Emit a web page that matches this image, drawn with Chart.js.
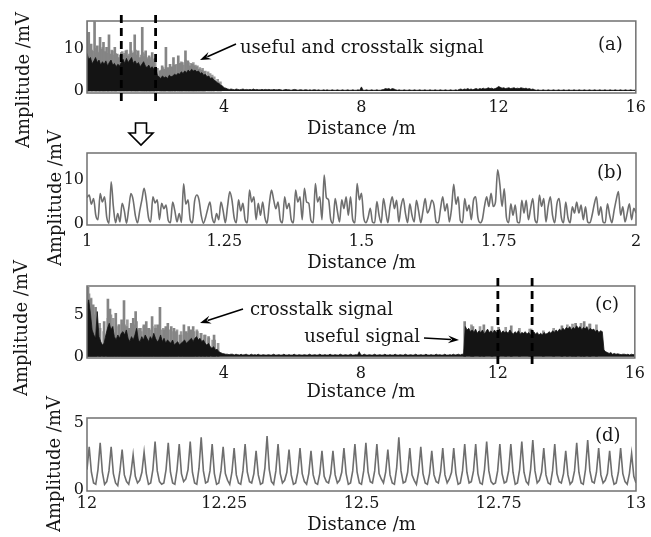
<!DOCTYPE html>
<html><head><meta charset="utf-8">
<script src="https://cdn.jsdelivr.net/npm/chart.js@4.4.0/dist/chart.umd.min.js"></script>
<style>
html,body{margin:0;padding:0;background:#fff;}
#wrap{position:relative;width:651px;height:537px;background:#fff;}
canvas{position:absolute;left:0;top:0;}
</style></head><body>
<div id="wrap">
<canvas id="pa" width="651" height="537"></canvas>
<canvas id="pb" width="651" height="537"></canvas>
<canvas id="pc" width="651" height="537"></canvas>
<canvas id="pd" width="651" height="537"></canvas>
</div>
<script>
// ---------- tick labels ----------
const aXTicks = [4, 8, 12, 16];
const aXLabels = ['4', '8', '12', '16'];
const aYTicks = [0, 10];
const bXTicks = [1, 1.25, 1.5, 1.75, 2];
const bXLabels = ['1', '1.25', '1.5', '1.75', '2'];
const bYTicks = [0, 10];
const cXTicks = [4, 8, 12, 16];
const cXLabels = ['4', '8', '12', '16'];
const cYTicks = [0, 5];
const dXTicks = [12, 12.25, 12.5, 12.75, 13];
const dXLabels = ['12', '12.25', '12.5', '12.75', '13'];
const dYTicks = [0, 5];

// ---------- sampling grids ----------
const aStart = 0, aStep = 0.05;
const bStart = 1, bStep = 0.004;
const cStart = 0, cStep = 0.05;
const dStart = 12, dStep = 0.004;

// ---------- (a) useful + crosstalk, dense envelope (mV) ----------
const aBody = [
9.0,7.5,8.0,6.5,7.2,8.0,6.8,7.4,6.2,7.0, 6.4,7.2,6.0,6.8,7.4,6.2,6.6,5.8,6.4,6.0,
6.8,7.6,6.6,7.8,6.8,7.4,8.0,6.6,7.2,6.4, 6.8,5.8,6.4,7.0,6.0,5.6,6.2,5.4,5.8,5.2,
5.6,3.8,3.4,3.0,3.6,3.2,3.4,3.0,3.8,3.4, 3.6,4.0,3.8,4.2,4.0,4.6,4.2,4.8,4.4,5.0,
4.6,5.2,4.8,5.0,4.6,4.8,4.2,4.4,3.8,4.0, 3.4,3.6,3.0,3.2,2.6,2.4,2.0,1.8,1.4,1.2,
0.8,0.7,0.5,0.4,0.5,
0.4,0.3,0.5,0.4,0.3,0.4,0.5,0.3,0.4,0.3,0.4,0.3,0.5,0.3,0.4,0.3,0.3,0.4,0.3,0.4,
0.3,0.4,0.3,0.3,0.4,0.3,0.3,0.4,0.3,0.2,0.3,0.4,0.3,0.3,0.2,0.3,0.4,0.3,0.2,0.3,
0.3,0.2,0.3,0.3,0.2,0.3,0.2,0.3,0.3,0.2,0.3,0.2,0.2,0.3,0.2,0.3,0.2,0.2,0.3,0.2,
0.2,0.3,0.2,0.2,0.3,0.2,0.2,0.3,0.2,0.2,0.3,0.2,0.2,0.3,0.2,1.0,0.2,0.2,0.3,0.2,
0.2,0.3,0.2,0.2,0.3,0.2,0.2,0.3,0.4,0.6,0.5,0.6,0.4,0.6,0.5,0.3,0.2,0.3,0.2,0.2,
0.3,0.2,0.2,0.3,0.2,0.2,0.3,0.2,0.2,0.3,0.2,0.2,0.3,0.2,0.2,0.3,0.2,0.2,0.3,0.2,
0.2,0.3,0.2,0.2,0.3,0.2,0.2,0.3,0.2,0.2,0.3,0.2,0.4,0.5,0.3,0.5,0.4,0.6,0.4,0.5,
0.3,0.5,0.6,0.4,0.6,0.5,0.7,0.5,0.6,0.8,0.6,0.7,0.5,0.6,0.8,1.1,0.9,0.7,0.8,0.6,
0.7,0.8,0.6,0.7,0.8,0.6,0.7,0.6,0.8,0.7,0.6,0.7,0.5,0.6,0.4,0.5,0.3,0.2,0.3,0.2,
0.2,0.3,0.2,0.2,0.3,0.2,0.2,0.3,0.2,0.2,0.3,0.2,0.2,0.3,0.2,0.2,0.3,0.2,0.2,0.3,
0.2,0.2,0.3,0.2,0.2,0.3,0.2,0.2,0.3,0.2,0.2,0.3,0.2,0.2,0.3,0.2,0.2,0.3,0.2,0.2,
0.3,0.2,0.2,0.3,0.2,0.2,0.3,0.2,0.2,0.3,0.2,0.2,0.3,0.2,0.2,0.3
];
// (a) tall gray spikes: distance (m) and amplitude (mV)
const aSpikeDist = [0.01,0.05,0.08,0.15,0.19,0.25,0.29,0.33,0.37,0.41,0.46,0.51,0.55,0.6,0.64,0.67,0.72,0.77,0.84,0.88,
  0.91,0.97,1.03,1.1,1.16,1.22,1.3,1.35,1.42,1.47,1.52,1.58,1.64,1.69,1.74,1.79,1.84,1.88,1.93,1.98,
  2.08,2.16,2.22,2.28,2.33,2.4,2.45,2.5,2.55,2.6,2.69,2.75,2.81,2.9,2.97,3.03,3.1,3.15,3.22,3.3,3.38,3.45];
const aSpikeAmp = [16.5,12.0,14.0,11.2,9.5,16.5,9.0,10.8,9.2,12.8,10.0,11.6,9.4,10.4,9.0,13.4,8.8,9.6,10.4,8.4,
  8.8,8.0,9.2,8.6,9.6,8.4,11.6,9.0,13.4,8.6,9.6,8.0,15.2,8.2,9.6,7.6,8.4,7.4,9.2,7.0,
  5.4,4.8,6.0,5.2,10.4,5.6,6.4,5.8,8.0,6.2,8.4,6.6,6.8,9.6,7.2,6.0,6.4,6.0,5.8,5.2,5.0,4.6];
// (a) smaller gray spikes just above the dense part
const aMinorDist = [0.03,0.11,0.22,0.35,0.43,0.48,0.58,0.69,0.75,0.8,0.94,1.0,1.06,1.13,1.19,1.26,1.33,1.39,1.45,1.55,
  1.61,1.67,1.72,1.81,1.91,1.96,2.12,2.19,2.25,2.36,2.43,2.53,2.58,2.65,2.72,2.78,2.85,2.93,3.0,3.07,
  3.13,3.19,3.26,3.34,3.42,3.5,3.56,3.62,3.68,3.78,3.86];
const aMinorAmp = [10.5,9.8,10.2,9.6,10.4,8.8,9.0,9.8,8.6,9.0,8.6,9.4,9.0,9.8,8.8,9.6,9.2,9.8,9.0,8.6,
  9.2,8.8,8.0,8.0,7.6,7.8,5.0,5.6,4.6,5.4,5.0,5.6,6.4,6.0,7.0,6.2,7.4,6.8,6.6,6.8,
  6.2,6.0,5.6,5.4,4.8,4.6,4.2,3.8,3.4,2.8,2.2];

// ---------- (b) zoom 1–2 m (mV) ----------
const bAmp = [
6.0,6.6,4.5,5.8,2.0,1.0,6.9,5.0,6.2,1.5,0.2,9.6,4.0,0.3,2.4,0.5,4.7,3.0,0.2,3.5,6.9,5.5,2.0,0.3,3.0,
5.5,8.1,5.5,1.5,0.5,6.2,4.8,5.5,1.0,4.7,3.5,4.3,0.8,0.3,5.0,3.0,0.5,2.4,0.4,9.1,4.5,5.5,1.0,0.3,5.2,
6.6,5.5,2.0,0.2,1.5,3.5,5.0,1.5,0.3,2.4,1.0,5.0,3.0,0.3,4.0,7.3,5.5,1.5,0.3,5.5,3.0,4.7,1.0,0.3,7.7,
5.0,6.2,1.0,4.7,2.0,5.0,1.5,0.2,4.5,7.7,5.5,3.5,5.0,1.0,0.3,6.2,3.5,4.7,1.0,0.3,7.7,5.0,6.2,1.0,8.1,
5.0,4.7,0.8,0.3,9.2,5.0,6.2,1.0,11.1,6.0,5.5,1.0,0.2,5.8,3.0,0.5,5.5,3.5,6.2,2.0,6.2,1.0,0.3,9.2,5.5,
7.0,1.5,0.3,1.5,3.6,0.5,0.3,5.1,2.0,0.3,5.8,3.0,0.3,4.0,6.2,3.5,5.4,0.5,4.0,5.8,2.5,0.3,4.6,2.0,0.5,
5.4,3.0,0.3,3.0,5.8,2.5,3.5,5.4,4.3,0.5,0.3,3.5,6.2,3.0,4.6,0.5,3.5,9.0,4.5,6.2,0.8,0.3,5.8,3.0,4.3,
1.0,5.4,6.2,1.5,0.3,1.0,4.0,6.2,4.0,7.0,4.0,5.0,12.3,9.0,4.0,8.0,1.5,0.3,4.6,2.0,4.3,0.5,0.3,5.4,2.5,
5.4,1.0,3.5,5.8,1.0,0.3,6.6,4.0,5.8,0.5,4.0,6.2,2.0,0.3,4.6,5.8,1.5,0.3,5.0,1.5,0.3,3.9,2.5,5.0,2.5,
4.3,1.0,3.9,0.5,0.3,2.0,4.5,6.2,2.0,3.9,0.5,0.3,4.6,2.0,0.3,3.0,5.5,7.4,2.0,3.9,0.5,2.5,4.6,1.0,3.6,2.5
];

// ---------- (c) crosstalk + useful signal, dense envelope (mV) ----------
const cBody = [
6.0,6.8,5.2,3.2,2.6,2.2,5.4,2.4,1.8,1.4, 1.6,2.6,3.4,4.0,3.2,3.6,2.4,2.0,2.6,2.2,
2.8,3.0,2.6,3.2,2.2,1.8,2.4,2.0,2.6,3.4, 2.0,1.8,2.4,2.0,2.6,2.2,1.8,2.4,2.0,2.8,
2.2,1.8,2.0,2.6,1.8,2.2,1.6,2.0,1.8,1.6, 2.0,1.4,1.6,1.8,1.4,1.6,1.8,2.0,1.6,1.8,
2.0,2.2,1.8,2.2,2.4,2.0,2.2,1.8,2.0,1.6, 1.4,1.6,1.2,1.0,1.2,0.8,0.9,0.6,0.5,0.4,
0.35,0.3,0.3,0.25,0.3,
0.3,0.2,0.3,0.25,0.2,0.3,0.2,0.25,0.3,0.2,0.2,0.3,0.2,0.25,0.2,0.3,0.2,0.2,0.25,0.2,
0.2,0.25,0.2,0.2,0.3,0.2,0.2,0.25,0.2,0.2,0.3,0.2,0.2,0.25,0.2,0.2,0.3,0.2,0.2,0.25,
0.2,0.2,0.25,0.2,0.2,0.3,0.2,0.2,0.25,0.2,0.2,0.3,0.2,0.2,0.25,0.2,0.2,0.3,0.2,0.2,
0.25,0.2,0.2,0.3,0.2,0.2,0.25,0.2,0.2,0.3,0.2,0.2,0.25,0.2,0.6,0.2,0.2,0.3,0.2,0.2,
0.25,0.2,0.2,0.3,0.2,0.2,0.25,0.2,0.2,0.3,0.2,0.2,0.25,0.2,0.2,0.3,0.2,0.2,0.25,0.2,
0.2,0.3,0.2,0.2,0.25,0.2,0.2,0.3,0.2,0.2,0.25,0.2,0.2,0.3,0.2,0.2,0.25,0.2,0.2,0.3,
0.2,0.25,0.2,0.2,0.3,0.2,0.2,0.25,0.2,0.3,0.2,0.25,0.3,0.2,0.3,0.3,3.6,3.2,3.4,3.0,
3.2,2.9,3.3,2.8,3.1,2.9,3.2,2.7,3.0,3.3,2.9,3.1,2.8,3.2,2.9,3.0,3.3,2.8,3.1,2.9,
3.0,2.8,3.2,2.9,2.7,3.0,2.8,3.1,2.7,2.9,2.8,3.0,2.7,2.9,2.6,2.8,3.0,2.7,2.9,2.6,
2.8,2.6,2.9,2.7,2.8,3.0,2.8,3.1,2.9,3.2,3.0,3.3,3.1,3.4,3.2,3.5,3.3,3.6,3.2,3.5,
3.3,3.7,3.4,3.6,3.2,3.5,3.3,3.6,3.1,3.4,3.2,3.3,3.0,3.2,2.9,3.1,3.0,0.8,0.6,0.5,
0.4,0.5,0.3,0.4,0.3,0.35,0.3,0.25,0.3,0.3,0.25,0.3,0.2,0.3,0.25,0.3
];
// (c) gray spikes
const cSpikeDist = [0.01,0.06,0.14,0.21,0.28,0.41,0.53,0.64,0.7,0.78,0.87,0.96,1.04,1.11,1.18,1.25,1.32,1.38,1.45,1.52,
  1.59,1.69,1.76,1.84,1.93,2.03,2.1,2.16,2.27,2.33,2.39,2.49,2.57,2.64,2.76,2.86,2.93,3.0,3.07,3.13,
  3.25,3.36,3.48,3.58,3.74,11.06,11.3,11.62,12.05,12.42,13.0,13.9,14.3,14.55,14.72];
const cSpikeAmp = [8.3,8.3,6.9,6.2,5.9,3.4,4.2,6.9,5.7,3.6,5.2,3.8,4.4,6.7,3.6,3.4,4.0,4.6,5.4,3.2,
  3.4,3.8,4.2,3.4,4.8,3.4,3.8,5.9,3.2,3.6,4.0,3.6,3.4,3.0,2.6,3.8,3.0,3.6,3.2,3.6,
  3.0,2.8,2.6,2.4,2.6,4.2,3.6,3.8,3.5,3.7,3.3,3.7,4.0,4.2,3.9];
const cMinorDist = [0.03,0.09,0.17,0.24,0.34,0.46,0.58,0.67,0.74,0.83,0.91,1.0,1.07,1.15,1.21,1.29,1.35,1.42,1.49,1.56,
  1.63,1.72,1.8,1.88,1.97,2.06,2.13,2.2,2.3,2.36,2.44,2.53,2.6,2.68,2.72,2.8,2.9,2.97,3.04,3.1,
  3.18,3.3,3.4,3.53,3.64,3.7,3.8,11.2,11.45,11.8,12.2,12.6,12.9,13.3,13.6,14.0,14.15,14.4,14.65,14.85];
const cMinorAmp = [7.5,7.0,5.0,4.5,4.0,3.0,4.6,5.0,4.6,3.6,3.8,4.0,3.8,4.4,3.2,3.6,3.8,4.2,3.4,3.0,
  3.6,3.4,3.2,3.6,3.8,3.0,3.2,3.4,3.0,3.2,3.0,2.8,3.2,2.6,3.0,2.6,2.8,3.0,2.8,3.0,
  3.2,2.8,2.6,2.2,2.0,2.0,1.6,3.8,3.6,3.6,3.5,3.4,3.3,3.1,3.4,3.8,3.9,4.0,3.9,3.8];

// ---------- (d) zoom 12–13 m (mV) ----------
const dAmp = [
1.5,3.2,1.3,0.5,0.4,1.5,3.5,1.3,0.4,0.6,1.4,3.2,1.2,0.5,0.3,1.4,3.0,1.1,0.6,0.4,1.2,2.6,1.0,0.5,0.7,
1.3,2.8,1.2,0.4,0.5,1.5,3.6,1.4,0.6,0.4,0.5,1.5,3.5,1.3,0.5,0.4,1.5,3.4,1.2,0.6,0.8,1.5,3.6,1.3,0.5,
0.4,1.6,3.9,1.4,0.5,0.6,1.4,3.4,1.2,0.4,0.5,1.4,3.2,1.2,0.7,0.4,1.3,3.1,1.1,0.5,0.4,1.4,3.4,1.3,0.6,
0.5,1.2,2.9,1.1,0.4,0.5,1.6,4.0,1.5,0.6,0.4,1.4,3.4,1.2,0.5,0.7,1.3,3.0,1.1,0.4,0.5,1.3,3.1,1.2,0.6,
0.4,1.2,2.9,1.1,0.5,0.4,1.2,2.9,1.0,0.6,0.5,1.2,2.9,1.1,0.5,0.7,1.3,3.1,1.2,0.4,0.5,1.4,3.4,1.3,0.5,
0.4,1.4,3.5,1.3,0.6,0.5,1.4,3.4,1.2,0.8,0.5,1.3,3.0,1.1,0.5,0.4,1.6,3.9,1.4,0.5,0.6,1.3,3.1,1.1,0.7,
0.4,1.3,3.2,1.2,0.5,0.4,1.2,2.9,1.1,0.6,0.5,1.3,3.1,1.1,0.5,0.8,1.3,3.1,1.2,0.4,0.5,1.4,3.4,1.3,0.5,
0.6,1.4,3.4,1.2,0.5,0.4,1.5,3.6,1.4,0.6,0.4,0.5,1.4,3.4,1.2,0.5,0.6,1.4,3.4,1.3,0.4,0.5,1.5,3.6,1.3,
0.6,0.4,1.5,3.7,1.4,0.5,0.7,1.3,3.1,1.1,0.5,0.4,1.4,3.4,1.2,0.6,0.5,1.2,2.9,1.1,0.4,0.6,1.4,3.5,1.3,
0.5,0.4,1.5,3.7,1.4,0.6,0.5,1.3,3.1,1.1,0.5,0.7,1.2,2.9,1.1,0.4,0.5,1.3,3.1,1.2,0.6,0.4,1.2,2.7,1.0,
0.5
];

// ---------- drawing ----------
const FONT = 'DejaVu Serif';
const INK = '#151515';
Chart.defaults.font.family = FONT;

function grid(arr, start, step) { return arr.map((v, i) => ({ x: start + i * step, y: v })); }
function pairs(xs, ys) { return xs.map((x, i) => ({ x: x, y: ys[i] })); }

const deco = {
  id: 'deco',
  afterDraw(chart, args, o) {
    const { ctx, chartArea: a, scales: { x } } = chart;
    ctx.save();
    ctx.strokeStyle = '#707070'; ctx.lineWidth = 1.5; ctx.setLineDash([]);
    ctx.strokeRect(a.left, a.top, a.right - a.left, a.bottom - a.top);
    ctx.fillStyle = INK;
    ctx.font = '18px "' + FONT + '"';
    ctx.save();
    ctx.translate(o.yTitle[0], o.yTitle[1]); ctx.rotate(-Math.PI / 2);
    ctx.textAlign = 'center'; ctx.textBaseline = 'middle';
    ctx.fillText('Amplitude /mV', 0, 0);
    ctx.restore();
    ctx.textAlign = 'left'; ctx.textBaseline = 'alphabetic';
    ctx.fillText(o.tag[0], o.tag[1], o.tag[2]);
    (o.notes || []).forEach(n => { ctx.textAlign = n.align || 'left'; ctx.fillText(n.text, n.x, n.y); });
    (o.arrows || []).forEach(ar => {
      const [x0, y0, x1, y1] = ar;
      const ang = Math.atan2(y1 - y0, x1 - x0);
      ctx.strokeStyle = '#000'; ctx.lineWidth = 1.6;
      ctx.beginPath(); ctx.moveTo(x0, y0);
      ctx.lineTo(x1 - 8 * Math.cos(ang), y1 - 8 * Math.sin(ang)); ctx.stroke();
      ctx.fillStyle = '#000';
      ctx.beginPath(); ctx.moveTo(x1, y1);
      ctx.lineTo(x1 - 11 * Math.cos(ang) + 4 * Math.sin(ang), y1 - 11 * Math.sin(ang) - 4 * Math.cos(ang));
      ctx.lineTo(x1 - 7 * Math.cos(ang), y1 - 7 * Math.sin(ang));
      ctx.lineTo(x1 - 11 * Math.cos(ang) - 4 * Math.sin(ang), y1 - 11 * Math.sin(ang) + 4 * Math.cos(ang));
      ctx.closePath(); ctx.fill();
    });
    (o.dashes || []).forEach(d => {
      const px = x.getPixelForValue(d);
      ctx.strokeStyle = '#000'; ctx.lineWidth = 2.8; ctx.setLineDash([8, 5]);
      ctx.beginPath(); ctx.moveTo(px, o.dashSpan[0]); ctx.lineTo(px, o.dashSpan[1]); ctx.stroke();
    });
    ctx.setLineDash([]);
    if (o.hollow) {
      const [cx, t] = o.hollow;
      ctx.fillStyle = '#fff'; ctx.strokeStyle = '#000'; ctx.lineWidth = 1.6;
      ctx.beginPath();
      ctx.moveTo(cx - 5.5, t); ctx.lineTo(cx + 5.5, t); ctx.lineTo(cx + 5.5, t + 10);
      ctx.lineTo(cx + 12, t + 10); ctx.lineTo(cx, t + 22); ctx.lineTo(cx - 12, t + 10);
      ctx.lineTo(cx - 5.5, t + 10); ctx.closePath(); ctx.fill(); ctx.stroke();
    }
    ctx.restore();
  }
};

function panel(id, c) {
  return new Chart(document.getElementById(id), {
    type: 'line',
    data: { datasets: c.datasets },
    options: {
      responsive: false, animation: false, devicePixelRatio: 1,
      layout: { padding: { top: c.top, left: 0, right: 15, bottom: 537 - c.bottom - c.xh } },
      plugins: { legend: { display: false }, tooltip: { enabled: false }, deco: c.deco },
      elements: { point: { radius: 0 }, line: { tension: 0 } },
      scales: {
        x: {
          type: 'linear', min: c.xmin, max: c.xmax, offset: false,
          grid: { display: false, drawTicks: false, offset: false }, border: { display: false },
          afterFit: s => { s.height = c.xh; },
          afterBuildTicks: s => { s.ticks = c.xt.map(v => ({ value: v })); },
          ticks: { padding: c.xpad, autoSkip: false, maxRotation: 0, color: INK,
                   font: { family: FONT, size: 16 }, callback: (v, i) => c.xl[i] },
          title: { display: true, text: 'Distance /m', color: INK,
                   font: { family: FONT, size: 18 }, padding: { top: 0, bottom: 0 } }
        },
        y: {
          type: 'linear', min: c.ymin, max: c.ymax,
          grid: { display: false, drawTicks: false }, border: { display: false },
          afterFit: s => { s.width = 87; },
          afterBuildTicks: s => { s.ticks = c.yt.map(v => ({ value: v })); },
          ticks: { padding: 3, color: INK, font: { family: FONT, size: 16 },
                   callback: v => String(v) }
        }
      }
    },
    plugins: [deco]
  });
}

const SPIKE = '#858585', MINOR = '#9a9a9a', BODY = '#141414', LINE = '#6e6e6e';

panel('pa', {
  top: 21, bottom: 93, xh: 47, xpad: 5, xmin: 0, xmax: 16, ymin: -0.45, ymax: 16.7,
  xt: aXTicks, xl: aXLabels, yt: aYTicks,
  datasets: [
    { type: 'bar', data: pairs(aMinorDist, aMinorAmp), backgroundColor: MINOR, barThickness: 2, order: 3 },
    { type: 'bar', data: pairs(aSpikeDist, aSpikeAmp), backgroundColor: SPIKE, barThickness: 2, order: 2 },
    { type: 'line', data: grid(aBody, aStart, aStep), borderColor: BODY, borderWidth: 0.8,
      backgroundColor: BODY, fill: 'origin', order: 1 }
  ],
  deco: { yTitle: [24, 80], tag: ['(a)', 598, 50],
          notes: [{ text: 'useful and crosstalk signal', x: 240, y: 53 }],
          arrows: [[236, 44, 200, 60]],
          dashes: [1, 2], dashSpan: [15, 106], hollow: [141, 123] }
});

panel('pb', {
  top: 153, bottom: 225, xh: 49, xpad: 7, xmin: 1, xmax: 2, ymin: -0.2, ymax: 16.1,
  xt: bXTicks, xl: bXLabels, yt: bYTicks,
  datasets: [
    { type: 'line', data: grid(bAmp, bStart, bStep), borderColor: LINE, borderWidth: 1.6, fill: false,
      cubicInterpolationMode: 'monotone' }
  ],
  deco: { yTitle: [56, 198], tag: ['(b)', 597, 178] }
});

panel('pc', {
  top: 286, bottom: 358, xh: 45, xpad: 6, xmin: 0, xmax: 16, ymin: -0.15, ymax: 8.45,
  xt: cXTicks, xl: cXLabels, yt: cYTicks,
  datasets: [
    { type: 'bar', data: pairs(cMinorDist, cMinorAmp), backgroundColor: MINOR, barThickness: 2, order: 3 },
    { type: 'bar', data: pairs(cSpikeDist, cSpikeAmp), backgroundColor: SPIKE, barThickness: 2, order: 2 },
    { type: 'line', data: grid(cBody, cStart, cStep), borderColor: BODY, borderWidth: 0.8,
      backgroundColor: BODY, fill: 'origin', order: 1 }
  ],
  deco: { yTitle: [22, 328], tag: ['(c)', 595, 310],
          notes: [{ text: 'crosstalk signal', x: 250, y: 315 },
                  { text: 'useful signal', x: 420, y: 342, align: 'right' }],
          arrows: [[243, 309, 200, 323], [424, 338, 459, 340]],
          dashes: [12, 13], dashSpan: [278, 367] }
});

panel('pd', {
  top: 418, bottom: 491, xh: 45, xpad: 3, xmin: 12, xmax: 13, ymin: -0.1, ymax: 5.35,
  xt: dXTicks, xl: dXLabels, yt: dYTicks,
  datasets: [
    { type: 'line', data: grid(dAmp, dStart, dStep), borderColor: LINE, borderWidth: 1.6, fill: false }
  ],
  deco: { yTitle: [55, 464], tag: ['(d)', 595, 441] }
});
</script>
</body></html>
